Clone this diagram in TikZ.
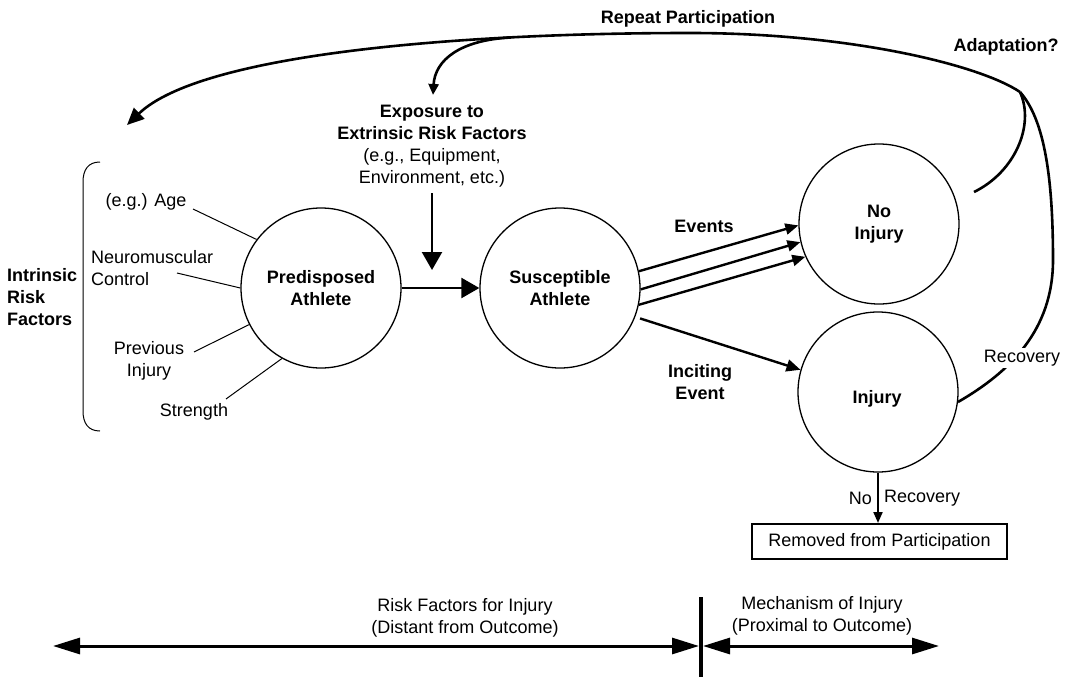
\documentclass[tikz,border=0pt]{standalone}
\usepackage{fontspec}
\setmainfont{Liberation Sans}
\usetikzlibrary{arrows.meta}
\begin{document}
\begin{tikzpicture}[x=1pt,y=-1pt,
  font=\fontsize{18}{22}\selectfont,
  circ/.style={draw, circle, minimum size=160pt, inner sep=0pt, line width=1.3pt, align=center, font=\fontsize{18}{22}\selectfont\bfseries},
  lbl/.style={align=center, inner sep=0pt},
  blbl/.style={lbl, font=\fontsize{18}{22}\selectfont\bfseries},
  fline/.style={line width=1pt},
  fb/.style={line width=2.6pt},
  arr/.style={line width=2.4pt},
  bigtip/.style={-{Triangle[length=18pt,width=20pt]}},
  smalltip/.style={-{Triangle[length=13pt,width=11pt]}},
  bartip/.style={{Triangle[length=27pt,width=16pt]}-{Triangle[length=27pt,width=16pt]}}
]
\useasboundingbox (0,0) rectangle (1066,677);

% circles
\node[circ] (P) at (321,288) {Predisposed\\Athlete};
\node[circ] (S) at (560,288) {Susceptible\\Athlete};
\node[circ] (N) at (879,224) {No\\Injury};
\node[circ] (I) at (878,392) {};
\node[blbl] (Itext) at (877,399) {Injury};

% labels
\node[lbl] (E) at (432,146) {{\bfseries Exposure to}\\{\bfseries Extrinsic Risk Factors}\\(e.g., Equipment,\\Environment, etc.)};
\node[lbl] (age) at (146,202) {(e.g.) Age};
\node[lbl, align=left, anchor=west] (nm) at (91,268.5) {Neuromuscular\\Control};
\node[lbl] (prev) at (149,361) {Previous\\Injury};
\node[lbl] (str) at (194,412) {Strength};
\node[blbl, align=left, anchor=west] (intr) at (7,297) {Intrinsic\\Risk\\Factors};
\node[blbl] (ev) at (704,226) {Events};
\node[blbl] (inc) at (700,382) {Inciting\\Event};
\node[blbl] (rp) at (688,19) {Repeat Participation};
\node[blbl] (ad) at (1006,47) {Adaptation?};
\node[lbl, anchor=east] (no) at (872,498) {No};
\node[lbl, anchor=west] (rec2) at (884,498) {Recovery};
\node[draw, line width=2pt, minimum width=255pt, minimum height=35pt, inner sep=0pt] (R) at (879.5,541.5) {Removed from Participation};
\node[lbl] (rf) at (465,617.5) {Risk Factors for Injury\\(Distant from Outcome)};
\node[lbl] (mi) at (822,616) {Mechanism of Injury\\(Proximal to Outcome)};

% brace
\draw[fline] (100,162) .. controls (88,162) and (83,170) .. (83,182) -- (83,411) .. controls (83,423) and (88,431) .. (100,431);

% factor lines
\coordinate (a1) at (193,209);
\coordinate (a2) at (177,273);
\coordinate (a3) at (194,352);
\coordinate (a4) at (226,399);
\draw[fline] (a1) -- (P.143);
\draw[fline] (a2) -- (P.180);
\draw[fline] (a3) -- (P.207);
\draw[fline] (a4) -- (P.241);

% main arrows
\draw[arr, bigtip] (P.east) -- (S.west);
\coordinate (Etop) at (432,193);
\coordinate (Ebot) at (432,270);
\draw[arr, bigtip] (Etop) -- (Ebot);

\draw[arr, smalltip] (S.12) -- (N.181);
\draw[arr, smalltip] (S.359) -- (N.193);
\draw[arr, smalltip] (S.348) -- (N.204);
\draw[arr, -{Triangle[length=14pt,width=12pt]}, shorten <=5pt] (S.-21) -- (I.164);

\draw[line width=2pt, -{Triangle[length=11pt,width=9pt]}] (I.south) -- (I.south |- R.north);

% feedback curves
\coordinate (J) at (1020,92);
\coordinate (M) at (690,33);
\coordinate (Ltip) at (127,125);
\coordinate (Bx) at (511,37.5);
\coordinate (Xtip) at (433,95);
\coordinate (A0) at (974,192);
\coordinate (B0) at (958,402);
\draw[fb, -{Triangle[length=17pt,width=15pt]}] (J) .. controls (980,65) and (850,33) .. (M) .. controls (450,33) and (200,55) .. (Ltip);
\draw[fb, -{Triangle[length=11pt,width=10pt]}] (Bx) .. controls (460,40) and (435,60) .. (Xtip);
\draw[fb] (A0) .. controls (1015,172) and (1035,125) .. (J);
\draw[fb] (B0) .. controls (1010,372) and (1053,330) .. (1053,260) .. controls (1053,180) and (1045,120) .. (J);
\node[lbl, fill=white, inner sep=2pt] (rec) at (1022,358) {Recovery};

% bottom scale
\coordinate (b1) at (53,646);
\coordinate (b2) at (699,646);
\coordinate (b3) at (703,646);
\coordinate (b4) at (939,646);
\coordinate (v1) at (701,597);
\coordinate (v2) at (701,677);
\draw[line width=3pt, bartip] (b1) -- (b2);
\draw[line width=3pt, bartip] (b3) -- (b4);
\draw[line width=4.5pt] (v1) -- (v2);
\end{tikzpicture}
\end{document}
